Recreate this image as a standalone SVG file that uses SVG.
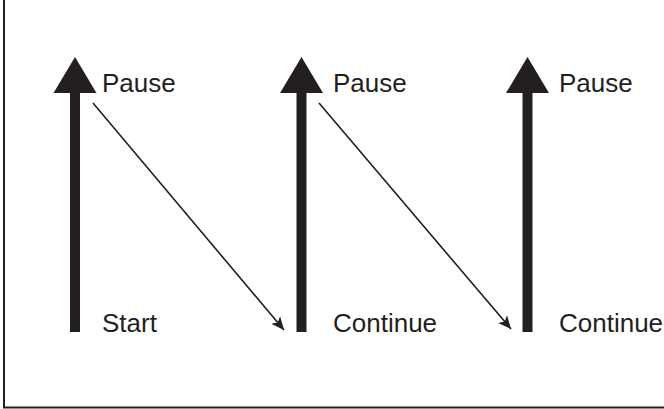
<svg xmlns="http://www.w3.org/2000/svg" width="664" height="409" viewBox="0 0 664 409">
<style>
.lbl{font-family:"Liberation Sans",Arial,sans-serif;font-size:26px;fill:#231f20}
.shaft{fill:#231f20}
.thin{stroke:#231f20;stroke-width:1.6;fill:none;marker-end:url(#ah)}
.frame{stroke:#231f20;stroke-width:2;fill:none}
</style>
<defs>
<marker id="ah" viewBox="0 0 10 10" refX="10" refY="5" markerWidth="13" markerHeight="13" markerUnits="userSpaceOnUse" orient="auto">
<path d="M0,0.5 L10,5 L0,9.5 L2.5,5 Z" fill="#231f20"/>
</marker>
</defs>
<g id="frame"><path class="frame" d="M4,0 V407.5 H664"/></g>
<g id="arrow1">
<rect class="shaft" x="70" y="90" width="10" height="242"/>
<polygon class="shaft" points="75,57 96.5,93 53.5,93"/>
<text class="lbl" x="102" y="92">Pause</text>
<text class="lbl" x="102" y="332">Start</text>
</g>
<g id="arrow2">
<rect class="shaft" x="296.5" y="90" width="10" height="242"/>
<polygon class="shaft" points="301.5,57 323,93 280,93"/>
<text class="lbl" x="333" y="92">Pause</text>
<text class="lbl" x="333" y="332">Continue</text>
</g>
<g id="arrow3">
<rect class="shaft" x="522.5" y="90" width="10" height="242"/>
<polygon class="shaft" points="527.5,57 549,93 506,93"/>
<text class="lbl" x="559" y="92">Pause</text>
<text class="lbl" x="559" y="332">Continue</text>
</g>
<g id="connectors">
<line class="thin" x1="93" y1="103" x2="284" y2="330"/>
<line class="thin" x1="319" y1="103" x2="511" y2="329"/>
</g>
</svg>
